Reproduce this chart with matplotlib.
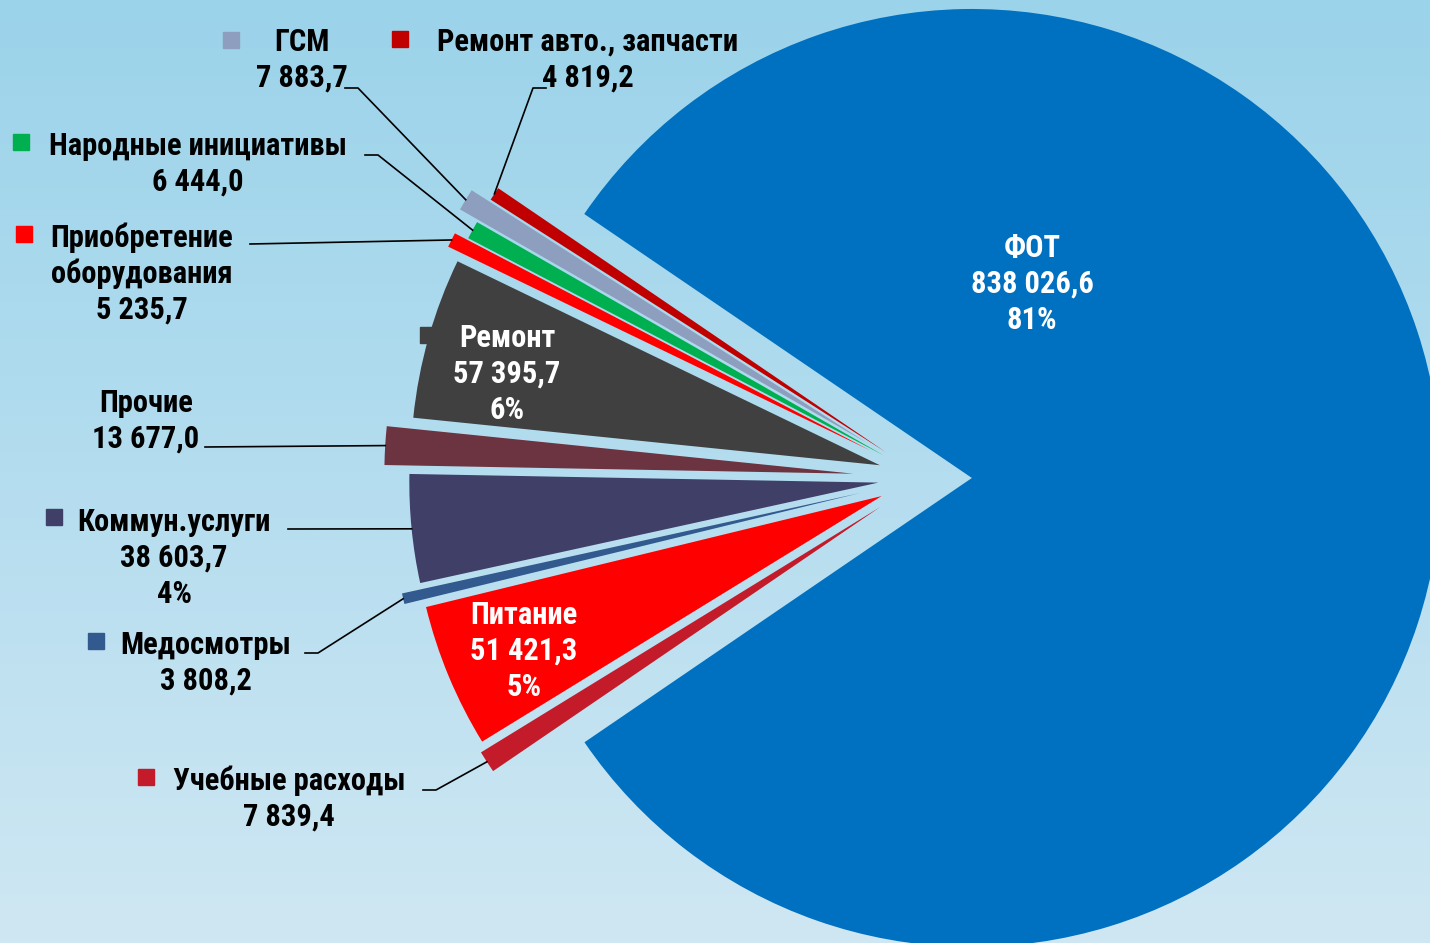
import numpy as np
import matplotlib
matplotlib.use("Agg")
import matplotlib.pyplot as plt
from matplotlib.colors import LinearSegmentedColormap

W, H = 1430, 943

# data
categories = ["ФОТ", "Ремонт авто., запчасти", "ГСМ", "Народные инициативы",
              "Приобретение\nоборудования", "Ремонт", "Прочие", "Коммун.услуги",
              "Медосмотры", "Питание", "Учебные расходы"]
values = [838026.6, 4819.2, 7883.7, 6444.0, 5235.7, 57395.7, 13677.0, 38603.7,
          3808.2, 51421.3, 7839.4]
show_pct = [True, False, False, False, False, True, False, True, False, True, False]

# style
colors = ["#0070C0", "#C00000", "#8E9EBF", "#00B050", "#FF0000", "#404040",
          "#6C3340", "#3F3F68", "#325A8F", "#FF0000", "#C31B2A"]
R = 469
center = (925, H - 478)
explode_frac = [0.1, 0.1, 0.145, 0.1, 0.13, 0.1, 0.153, 0.1, 0.142, 0.1, 0.113]
FONT = ["Roboto Condensed", "DejaVu Sans"]
FS = 22

# label layout in image pixels: text centre x, first line y, key square, leader start/elbow
layout = [
    dict(x=1032, y=246, key=None, color="white"),
    dict(x=588, y=40, key=(400, 39), start=(546, 88), elbow=(533, 88)),
    dict(x=302, y=40, key=(231, 40), start=(345, 88), elbow=(358, 88)),
    dict(x=198, y=144, key=(21, 142), start=(365, 155), elbow=(378, 155)),
    dict(x=142, y=236, key=(24, 234), start=(250, 244), elbow=None),
    dict(x=507, y=336, key=(428, 335), color="white"),
    dict(x=146, y=401, key=None, start=(205, 447), elbow=None),
    dict(x=174, y=520, key=(54, 517), start=(288, 529), elbow=None),
    dict(x=206, y=643, key=(96, 641), start=(305, 653), elbow=(318, 653)),
    dict(x=524, y=613, key=None, color="white"),
    dict(x=289, y=779, key=(146, 777), start=(423, 790), elbow=(436, 790)),
]


def fmt(v):
    return f"{v:,.1f}".replace(",", " ").replace(".", ",")


fig = plt.figure(figsize=(W / 100, H / 100), dpi=100)
ax = fig.add_axes([0, 0, 1, 1])

bg = LinearSegmentedColormap.from_list("bg", ["#9BD3EA", "#B4DDEF", "#CFE7F3"])
ax.imshow(np.linspace(0, 1, 256)[:, None], cmap=bg, extent=(0, W, 0, H),
          aspect="auto", zorder=0)

wedges, _ = ax.pie(values, colors=colors, explode=[f * R for f in explode_frac],
                   startangle=-145.7, counterclock=True, radius=R, center=center,
                   wedgeprops=dict(linewidth=0))
for w in wedges:
    w.set_zorder(1)

total = sum(values)
for i, (cat, v) in enumerate(zip(categories, values)):
    lay = layout[i]
    lines = cat.split("\n") + [fmt(v)]
    if show_pct[i]:
        lines.append(f"{round(v / total * 100)}%")
    for k, line in enumerate(lines):
        ax.text(lay["x"], H - (lay["y"] + 36 * k) - 11, line, ha="center",
                va="baseline", fontsize=FS, fontweight="bold", family=FONT,
                color=lay.get("color", "black"), zorder=5)
    if lay["key"] is not None:
        kx, ky = lay["key"]
        ax.plot([kx], [H - ky], marker="s", markersize=11, color=colors[i],
                linestyle="none", zorder=4)
    if "start" in lay:
        w = wedges[i]
        th = np.deg2rad((w.theta1 + w.theta2) / 2)
        ex = w.center[0] + w.r * np.cos(th)
        ey = w.center[1] + w.r * np.sin(th)
        pts = [lay["start"]]
        if lay["elbow"] is not None:
            pts.append(lay["elbow"])
        xs = [p[0] for p in pts] + [ex]
        ys = [H - p[1] for p in pts] + [ey]
        ax.plot(xs, ys, color="black", linewidth=1.2, zorder=3)

ax.set_xlim(0, W)
ax.set_ylim(0, H)
ax.set_aspect("auto")
ax.axis("off")

fig.savefig("out.png", dpi=100)
